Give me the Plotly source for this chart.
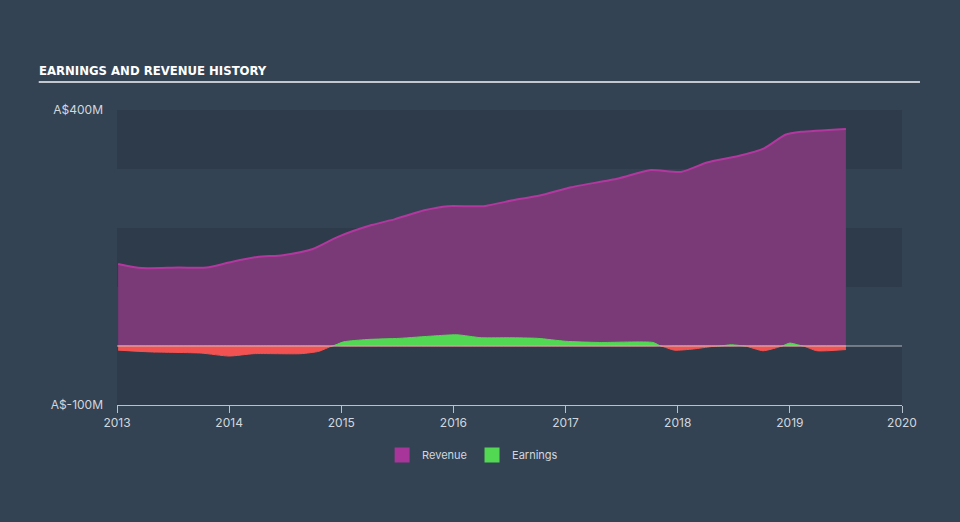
import plotly.graph_objects as go

# ---- data (A$ millions) ----
rev_x = [2013.01, 2013.22, 2013.55, 2013.80, 2014.01, 2014.25, 2014.48, 2014.74, 2014.97,
         2015.27, 2015.48, 2015.74, 2015.95, 2016.27, 2016.53, 2016.77, 2017.05, 2017.47,
         2017.75, 2018.03, 2018.26, 2018.54, 2018.77, 2018.96, 2019.10, 2019.50]
revenue = [139, 132, 133, 133, 142, 151, 154, 164, 185,
           205, 215, 230, 237, 237, 247, 255, 269, 284,
           298, 295, 311, 322, 335, 358, 363, 368]

earn_x = [2013.01, 2013.30, 2013.75, 2014.00, 2014.22, 2014.64, 2014.80, 2014.92, 2015.02,
          2015.23, 2015.52, 2015.82, 2016.03, 2016.25, 2016.50, 2016.75, 2017.00, 2017.30,
          2017.78, 2017.85, 2017.97, 2018.14, 2018.30, 2018.37, 2018.48, 2018.60, 2018.76,
          2018.88, 2018.93, 2019.00, 2019.07, 2019.12, 2019.24, 2019.50]
earnings = [-7, -10, -12, -17, -13, -13, -9, 0, 7,
            11, 13, 17, 19, 14, 14, 13, 8, 6,
            6, 0, -7, -5, -1, 0, 2, 0, -8,
            -3, 0, 5, 2, 0, -8, -6]

years = [2013, 2014, 2015, 2016, 2017, 2018, 2019, 2020]
y_ticks = [400, -100]
y_tick_text = ["A$400M", "A$-100M"]
band_edges = [(300, 400), (100, 200), (-100, 0)]

earn_pos = [max(v, 0) for v in earnings]
earn_neg = [min(v, 0) for v in earnings]

BG = "#334354"
DARK_BAND = "#2e3b4a"
TXT = "#d2d7dd"

fig = go.Figure()

fig.add_trace(go.Scatter(
    x=rev_x, y=revenue, name="Revenue", mode="lines", showlegend=False,
    line=dict(color="#b2389f", width=2, shape="spline", smoothing=0.6),
    fill="tozeroy", fillcolor="#7a3977",
))
fig.add_trace(go.Scatter(
    x=earn_x, y=earn_pos, name="Earnings", mode="lines", showlegend=False,
    line=dict(color="#52d852", width=1, shape="spline", smoothing=0.6),
    fill="tozeroy", fillcolor="#52d852",
))
fig.add_trace(go.Scatter(
    x=earn_x, y=earn_neg, name="Loss", mode="lines", showlegend=False,
    line=dict(color="#f25252", width=1, shape="spline", smoothing=0.6),
    fill="tozeroy", fillcolor="#f25252",
))
# legend entries with square swatches
fig.add_trace(go.Scatter(x=[None], y=[None], name="Revenue", mode="markers",
                         marker=dict(symbol="square", size=15, color="#a8369a")))
fig.add_trace(go.Scatter(x=[None], y=[None], name="Earnings", mode="markers",
                         marker=dict(symbol="square", size=15, color="#52d852")))

shapes = []
for lo, hi in band_edges:
    shapes.append(dict(type="rect", xref="x", yref="y", x0=years[0], x1=years[-1],
                       y0=lo, y1=hi, fillcolor=DARK_BAND, line=dict(width=0), layer="below"))
shapes.append(dict(type="line", xref="x", yref="y", x0=years[0], x1=years[-1], y0=0, y1=0,
                   line=dict(color="rgba(205,210,215,0.55)", width=1.5), layer="above"))
# title underline
shapes.append(dict(type="line", xref="paper", yref="paper", x0=-0.0997, x1=1.0229,
                   y0=1.0945, y1=1.0945, line=dict(color="#c3c8ce", width=2)))

title_text = ("<span style='font-stretch:condensed;font-family:\"DejaVu Sans Condensed\",\"DejaVu Sans\"'>"
              "<b>EARNINGS AND REVENUE HISTORY</b></span>")

fig.update_layout(
    width=960, height=522,
    paper_bgcolor=BG, plot_bgcolor=BG,
    margin=dict(l=117, r=58, t=110, b=117),
    shapes=shapes,
    showlegend=True,
    legend=dict(orientation="h", x=0.453, xanchor="center", y=-0.12, yanchor="top",
                font=dict(color=TXT, size=11, family="Inter"),
                traceorder="normal", bgcolor="rgba(0,0,0,0)"),
    annotations=[dict(text=title_text, xref="paper", yref="paper",
                      x=-0.1015, y=1.1, xanchor="left", yanchor="bottom", showarrow=False,
                      font=dict(family="DejaVu Sans", size=13, color="#ffffff"))],
    xaxis=dict(range=[years[0], years[-1]], tickvals=years, ticktext=[str(y) for y in years],
               showgrid=False, zeroline=False, showline=True, linecolor="#b7c2cf", linewidth=1,
               ticks="outside", ticklen=7, tickcolor="#b7c2cf",
               tickfont=dict(color=TXT, size=12, family="Inter")),
    yaxis=dict(range=[-100, 400], tickvals=y_ticks, ticktext=y_tick_text,
               showgrid=False, zeroline=False, showline=False, ticks="",
               ticklabelstandoff=13,
               tickfont=dict(color=TXT, size=12, family="Inter")),
)

fig.write_html("out.html")
